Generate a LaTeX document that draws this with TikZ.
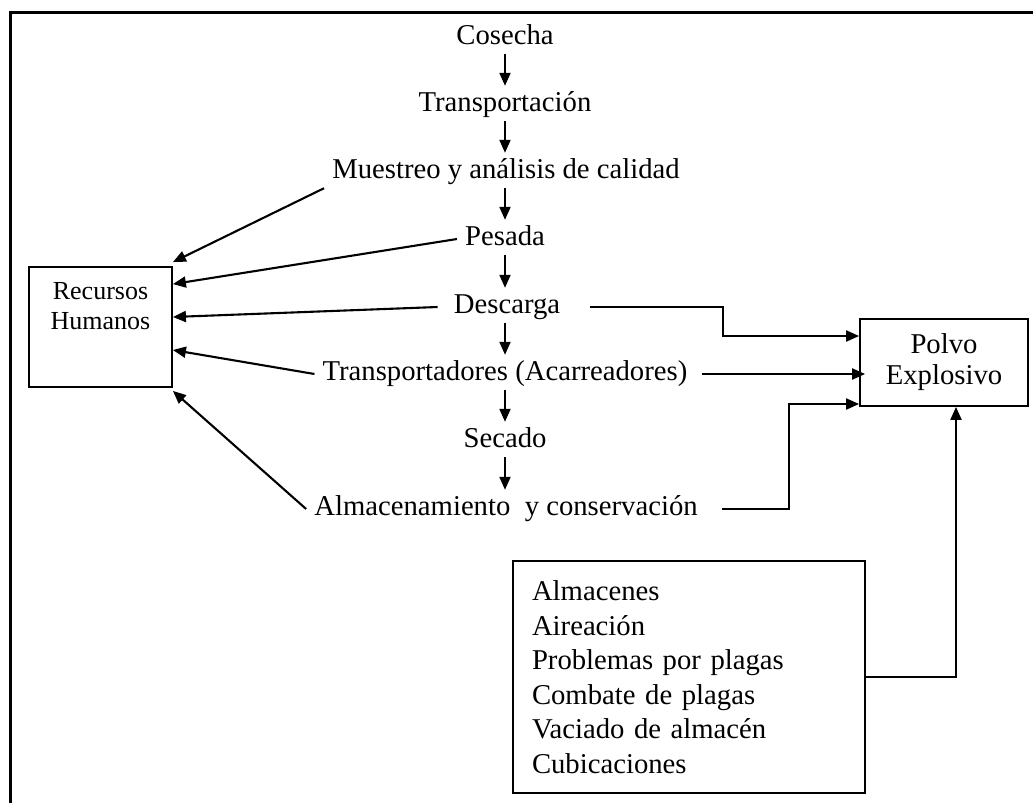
\documentclass[tikz,border=0pt]{standalone}
\usepackage{fontspec}
\setmainfont{Liberation Serif}
\usetikzlibrary{arrows.meta,calc}
\begin{document}
\begin{tikzpicture}[x=1pt,y=-1pt,
  lbl/.style={font=\fontsize{28.7}{34.5}\selectfont, inner xsep=8pt, inner ysep=0pt,
    minimum height=32pt, text height=19pt, text depth=6pt},
  box/.style={draw, line width=1.8pt},
  arr/.style={line width=2.1pt, -{Triangle[length=13pt,width=11pt]}}
]
\useasboundingbox (0,0) rectangle (1033,803);
% frame
\draw[line width=3pt] (1033,12) -- (10,12) -- (10,803);

% process chain
\node[lbl] (cos) at (505,38)  {Cosecha};
\node[lbl] (tra) at (505,105) {Transportación};
\node[lbl] (mue) at (506,172) {Muestreo y análisis de calidad};
\node[lbl] (pes) at (505,239) {Pesada};
\node[lbl] (des) at (507,307) {Descarga};
\node[lbl] (tpt) at (505,374) {Transportadores (Acarreadores)};
\node[lbl] (sec) at (505,441) {Secado};
\node[lbl] (alm) at (506,509) {Almacenamiento\ \ y conservación};

\foreach \a/\b in {cos/tra,tra/mue,mue/pes,pes/des,des/tpt,tpt/sec,sec/alm}
  \draw[arr, shorten >=3pt] (\a.south -| cos.south) -- (\b.north -| cos.south);

% Recursos Humanos
\node[box, minimum width=143pt, minimum height=120pt] (rh) at (100.5,327) {};
\node[font=\fontsize{26}{30}\selectfont, align=center, inner sep=0pt] (rht) at (100.5,306) {Recursos\\Humanos};

\draw[arr] (mue.south west) -- ($(rh.north east)+(0,-4)$);
\draw[arr] (pes.west) -- ($(rh.north east)+(0,18)$);
\draw[arr] ([xshift=-8pt]des.west) -- ($(rh.east)+(0,-10)$);
\draw[arr] (tpt.west) -- ($(rh.east)+(0,23)$);
\draw[arr] (alm.west) -- ($(rh.south east)+(0,3)$);

% Polvo Explosivo
\node[box, minimum width=168pt, minimum height=87pt, align=center,
  font=\fontsize{28.7}{31}\selectfont] (pol) at (944,362.5) {Polvo\\Explosivo};

\coordinate (b1) at (723,336);
\coordinate (b2) at (789,404);
\draw[arr] ([xshift=22pt]des.east) -| (b1) -- (b1 -| pol.west);
\draw[arr] ([xshift=6pt]tpt.east) -- ([xshift=6pt]tpt.east -| pol.west);
\draw[arr] ([xshift=16pt]alm.east) -| (b2) -- (b2 -| pol.west);

% lower box
\node[box, minimum width=352pt, minimum height=232pt, align=left, text width=314pt,
  inner xsep=19pt, font=\fontsize{28.7}{34.5}\selectfont] (low) at (689,677)
  {Almacenes\\Aireación\\Problemas por plagas\\Combate de plagas\\Vaciado de almacén\\Cubicaciones};
\draw[arr] (low.east) -| ([xshift=12pt]pol.south);
\end{tikzpicture}
\end{document}
